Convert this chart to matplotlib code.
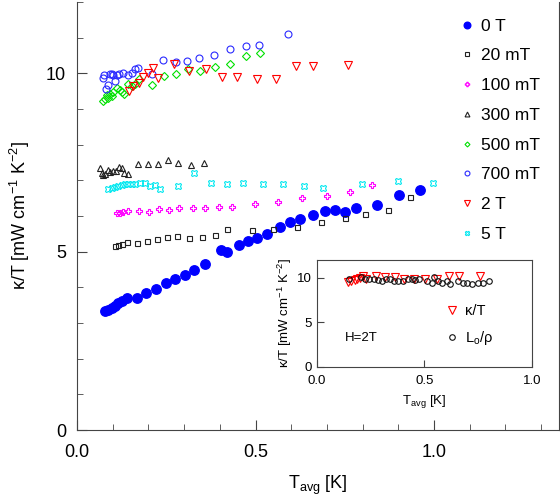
import matplotlib
matplotlib.use('Agg')
import matplotlib.pyplot as plt
from matplotlib.ticker import MultipleLocator

plt.rcParams['font.family'] = ['Liberation Sans', 'DejaVu Sans']
plt.rcParams['mathtext.fontset'] = 'custom'
plt.rcParams['mathtext.rm'] = 'Liberation Sans'
plt.rcParams['mathtext.it'] = 'Liberation Sans:italic'

# 0 T
t_0T = [0.078, 0.088, 0.097, 0.106, 0.116, 0.125, 0.139, 0.167, 0.193, 0.221, 0.249, 0.275,
        0.303, 0.329, 0.358, 0.403, 0.419, 0.455, 0.480, 0.505, 0.533, 0.569, 0.597, 0.625,
        0.661, 0.695, 0.723, 0.751, 0.781, 0.841, 0.902, 0.961]
k_0T = [3.34, 3.37, 3.43, 3.48, 3.57, 3.61, 3.69, 3.71, 3.85, 3.96, 4.12, 4.23,
        4.35, 4.49, 4.66, 5.04, 4.99, 5.20, 5.31, 5.38, 5.49, 5.68, 5.83, 5.92,
        6.04, 6.13, 6.16, 6.11, 6.22, 6.30, 6.58, 6.74]
# 20 mT
t_20mT = [0.106, 0.116, 0.125, 0.139, 0.167, 0.195, 0.223, 0.251, 0.279, 0.314, 0.349,
          0.387, 0.419, 0.489, 0.548, 0.615, 0.683, 0.750, 0.808, 0.870, 0.932]
k_20mT = [5.16, 5.19, 5.23, 5.28, 5.25, 5.30, 5.36, 5.40, 5.44, 5.38, 5.42,
          5.48, 5.63, 5.61, 5.64, 5.69, 5.84, 5.94, 6.06, 6.16, 6.53]
# 100 mT
t_100mT = [0.111, 0.120, 0.130, 0.144, 0.175, 0.203, 0.231, 0.259, 0.286, 0.324, 0.359,
           0.398, 0.433, 0.499, 0.564, 0.630, 0.699, 0.766, 0.825]
k_100mT = [6.08, 6.09, 6.12, 6.15, 6.13, 6.10, 6.20, 6.18, 6.22, 6.23, 6.23,
           6.26, 6.26, 6.33, 6.38, 6.51, 6.57, 6.67, 6.86]
# 300 mT
t_300mT = [0.064, 0.069, 0.074, 0.078, 0.088, 0.092, 0.102, 0.109, 0.118, 0.125, 0.132,
           0.144, 0.172, 0.200, 0.228, 0.256, 0.284, 0.319, 0.356]
k_300mT = [7.34, 7.20, 7.15, 7.18, 7.29, 7.24, 7.26, 7.27, 7.38, 7.34, 7.20,
           7.17, 7.46, 7.46, 7.45, 7.56, 7.48, 7.43, 7.48]
# 500 mT
t_500mT = [0.072, 0.078, 0.083, 0.088, 0.092, 0.097, 0.102, 0.111, 0.120, 0.125, 0.132,
           0.144, 0.153, 0.162, 0.175, 0.209, 0.244, 0.277, 0.312, 0.345, 0.387, 0.429,
           0.473, 0.513]
k_500mT = [9.23, 9.27, 9.39, 9.30, 9.42, 9.36, 9.48, 9.58, 9.53, 9.48, 9.42,
           9.69, 9.64, 9.70, 9.83, 9.67, 9.92, 9.97, 10.11, 10.06, 10.17, 10.25,
           10.50, 10.56]
# 700 mT
t_700mT = [0.072, 0.076, 0.081, 0.088, 0.092, 0.097, 0.102, 0.106, 0.111, 0.118, 0.130,
           0.142, 0.153, 0.162, 0.172, 0.209, 0.240, 0.276, 0.309, 0.343, 0.385, 0.429,
           0.473, 0.511, 0.592]
k_700mT = [9.88, 9.95, 9.56, 9.67, 9.97, 9.98, 9.95, 9.78, 9.95, 9.97, 10.02,
           9.95, 10.00, 10.11, 10.16, 9.98, 10.37, 10.33, 10.36, 10.44, 10.53, 10.69,
           10.77, 10.81, 11.10]
# 2 T
t_2T = [0.146, 0.158, 0.175, 0.186, 0.200, 0.214, 0.228, 0.273, 0.315, 0.361, 0.405,
        0.449, 0.503, 0.557, 0.613, 0.662, 0.760]
k_2T = [9.51, 9.64, 9.72, 9.89, 10.02, 10.16, 9.86, 10.25, 10.06, 10.12, 9.89,
        9.89, 9.83, 9.83, 10.20, 10.20, 10.23]
# 5 T
t_5T = [0.088, 0.097, 0.106, 0.116, 0.125, 0.134, 0.144, 0.153, 0.162, 0.176, 0.190,
        0.204, 0.218, 0.232, 0.282, 0.328, 0.375, 0.419, 0.466, 0.522, 0.578, 0.637,
        0.690, 0.797, 0.898, 0.998]
k_5T = [6.75, 6.78, 6.82, 6.85, 6.87, 6.89, 6.90, 6.90, 6.90, 6.93, 6.94,
        6.85, 6.87, 6.76, 6.85, 7.20, 6.93, 6.89, 6.94, 6.90, 6.90, 6.85,
        6.78, 6.90, 6.99, 6.92]

# inset: L0/rho at 2 T
t_lrho = [0.147, 0.206, 0.224, 0.244, 0.263, 0.283, 0.301, 0.321, 0.340, 0.360, 0.379,
          0.399, 0.422, 0.440, 0.456, 0.476, 0.510, 0.533, 0.546, 0.564, 0.583, 0.603,
          0.621, 0.657, 0.677, 0.699, 0.722, 0.750, 0.773, 0.801]
l_rho = [9.92, 10.04, 9.85, 9.85, 9.85, 9.77, 9.66, 9.92, 9.85, 9.66, 9.59,
         9.66, 9.85, 9.85, 9.77, 9.92, 9.59, 9.47, 10.11, 9.59, 9.47, 9.66,
         9.29, 9.59, 9.47, 9.40, 9.36, 9.47, 9.47, 9.59]

fig = plt.figure(figsize=(5.6, 4.97), dpi=100)
ax = fig.add_axes([0.1375, 0.1348, 0.8607, 0.861])

ax.plot(t_0T, k_0T, 'o', color='#0000ff', ms=6.8, label='0 T')
ax.plot(t_20mT, k_20mT, 's', mfc='none', mec='#222222', mew=0.8, ms=3.6, label='20 mT')
ax.plot(t_100mT, k_100mT, 'P', mfc='none', mec='#ff00ff', mew=0.8, ms=4.5, label='100 mT')
ax.plot(t_300mT, k_300mT, '^', mfc='none', mec='#222222', mew=0.8, ms=5, label='300 mT')
ax.plot(t_500mT, k_500mT, 'D', mfc='none', mec='#00e000', mew=0.8, ms=3.6, label='500 mT')
ax.plot(t_700mT, k_700mT, 'o', mfc='none', mec='#2a2aff', mew=0.8, ms=5, label='700 mT')
ax.plot(t_2T, k_2T, 'v', mfc='none', mec='#ff0000', mew=0.8, ms=6, label='2 T')
ax.plot(t_5T, k_5T, 'X', mfc='none', mec='#00e8f0', mew=0.8, ms=4.5, label='5 T')

ax.set_xlim(0, 1.35)
ax.set_ylim(0, 12)
ax.xaxis.set_major_locator(MultipleLocator(0.5))
ax.xaxis.set_minor_locator(MultipleLocator(0.1))
ax.yaxis.set_major_locator(MultipleLocator(5))
ax.yaxis.set_minor_locator(MultipleLocator(1))
ax.xaxis.set_major_formatter(plt.FormatStrFormatter('%.1f'))
ax.tick_params(which='both', direction='in', top=False, right=False, labelsize=13, color='#444444')
ax.tick_params(which='major', length=7)
ax.tick_params(which='minor', length=4.5)
ax.tick_params(axis='x', pad=10)
ax.tick_params(axis='y', pad=8)
ax.spines['top'].set_visible(False)
for s in ['left', 'bottom', 'right']:
    ax.spines[s].set_color('#444444')
ax.set_xlabel('T$_{\\rm avg}$ [K]', fontsize=13, labelpad=9)
ax.set_ylabel('\u03ba/T [mW cm$^{-1}$ K$^{-2}$]', fontsize=13, labelpad=10)

ax.legend(loc='upper right', frameon=False, fontsize=12.5, markerscale=0.7,
          handlelength=0.6, handletextpad=0.5, labelspacing=0.84,
          borderaxespad=0.3, bbox_to_anchor=(0.985, 0.99))

# inset
ins = fig.add_axes([0.566, 0.2616, 0.384, 0.2153])
ins.plot(t_2T, k_2T, 'v', mfc='none', mec='#ff0000', mew=0.8, ms=6, label='\u03ba/T')
ins.plot(t_lrho, l_rho, 'o', mfc='none', mec='#111111', mew=0.8, ms=4, label='L$_{\\rm o}$/\u03c1')
ins.set_xlim(0, 1.0)
ins.set_ylim(0, 12)
ins.xaxis.set_major_locator(MultipleLocator(0.5))
ins.yaxis.set_major_locator(MultipleLocator(5))
ins.xaxis.set_major_formatter(plt.FormatStrFormatter('%.1f'))
ins.tick_params(direction='in', length=5, labelsize=9.5, color='#444444')
ins.tick_params(axis='x', pad=6)
for s in ins.spines.values():
    s.set_color('#444444')
ins.set_xlabel('T$_{\\rm avg}$ [K]', fontsize=9.5, labelpad=4)
ins.set_ylabel('\u03ba/T [mW cm$^{-1}$ K$^{-2}$]', fontsize=9.5, labelpad=2)
ins.text(0.13, 3.2, 'H=2T', fontsize=9.5, va='center')
ins.legend(loc='lower right', frameon=False, fontsize=10.5, handlelength=0.8,
           handletextpad=0.5, labelspacing=0.8, bbox_to_anchor=(0.88, 0.06))

fig.savefig('out.png', dpi=100)
